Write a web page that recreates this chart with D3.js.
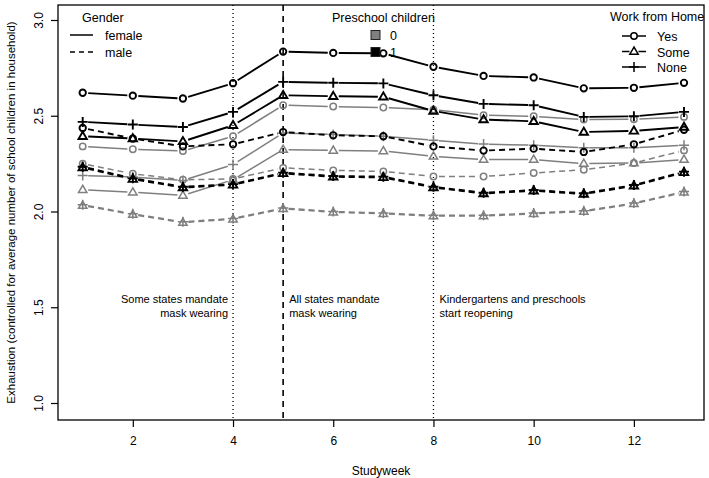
<!DOCTYPE html>
<html>
<head>
<meta charset="utf-8">
<script src="https://cdn.jsdelivr.net/npm/d3@7"></script>
<style>
body { margin: 0; background: #fff; }
svg { display: block; font-family: "Liberation Sans", Arial, sans-serif; }
</style>
</head>
<body>
<svg id="chart" width="709" height="478"></svg>
<script>
const weeks = [1, 2, 3, 4, 5, 6, 7, 8, 9, 10, 11, 12, 13]
const xTicks = [2, 4, 6, 8, 10, 12]
const yTicks = [1.0, 1.5, 2.0, 2.5, 3.0]

// female, preschool children = 1 (black, solid)
const femPre1Yes = [2.62, 2.605, 2.59, 2.67, 2.835, 2.828, 2.826, 2.756, 2.708, 2.70, 2.643, 2.646, 2.672]
const femPre1Some = [2.393, 2.381, 2.366, 2.45, 2.607, 2.602, 2.599, 2.525, 2.48, 2.471, 2.415, 2.421, 2.441]
const femPre1None = [2.468, 2.454, 2.441, 2.52, 2.677, 2.672, 2.669, 2.607, 2.562, 2.555, 2.494, 2.497, 2.52]
// female, preschool children = 0 (grey, solid)
const femPre0Yes = [2.34, 2.325, 2.316, 2.393, 2.555, 2.548, 2.543, 2.532, 2.503, 2.497, 2.48, 2.482, 2.494]
const femPre0Some = [2.114, 2.101, 2.084, 2.166, 2.323, 2.319, 2.316, 2.288, 2.271, 2.271, 2.25, 2.253, 2.271]
const femPre0None = [2.188, 2.18, 2.162, 2.245, 2.41, 2.402, 2.393, 2.372, 2.352, 2.346, 2.333, 2.333, 2.346]
// male, preschool children = 1 (black, dashed)
const malPre1Yes = [2.436, 2.381, 2.34, 2.351, 2.415, 2.398, 2.393, 2.34, 2.318, 2.328, 2.311, 2.351, 2.427]
const malPre1Some = [2.23, 2.169, 2.125, 2.139, 2.199, 2.181, 2.178, 2.125, 2.094, 2.108, 2.091, 2.134, 2.204]
const malPre1None = [2.234, 2.173, 2.129, 2.143, 2.203, 2.185, 2.182, 2.129, 2.098, 2.112, 2.095, 2.138, 2.208]
// male, preschool children = 0 (grey, dashed)
const malPre0Yes = [2.25, 2.197, 2.166, 2.17, 2.228, 2.215, 2.209, 2.183, 2.183, 2.201, 2.218, 2.253, 2.319]
const malPre0Some = [2.031, 1.984, 1.942, 1.96, 2.014, 1.996, 1.988, 1.976, 1.976, 1.988, 2.0, 2.04, 2.1]
const malPre0None = [2.035, 1.988, 1.946, 1.964, 2.018, 2.0, 1.992, 1.98, 1.98, 1.992, 2.004, 2.044, 2.104]

const series = [
  { v: malPre0Some, g: 'male', p: 0, w: 'Some' }, { v: malPre0None, g: 'male', p: 0, w: 'None' }, { v: malPre0Yes, g: 'male', p: 0, w: 'Yes' },
  { v: femPre0Some, g: 'female', p: 0, w: 'Some' }, { v: femPre0None, g: 'female', p: 0, w: 'None' }, { v: femPre0Yes, g: 'female', p: 0, w: 'Yes' },
  { v: malPre1Some, g: 'male', p: 1, w: 'Some' }, { v: malPre1None, g: 'male', p: 1, w: 'None' }, { v: malPre1Yes, g: 'male', p: 1, w: 'Yes' },
  { v: femPre1Some, g: 'female', p: 1, w: 'Some' }, { v: femPre1None, g: 'female', p: 1, w: 'None' }, { v: femPre1Yes, g: 'female', p: 1, w: 'Yes' }
]

const events = [
  { wk: 4, dash: '1,3', lines: ['Some states mandate', 'mask wearing'], anchor: 'end', dx: -5 },
  { wk: 5, dash: '6,5', lines: ['All states mandate', 'mask wearing'], anchor: 'start', dx: 6 },
  { wk: 8, dash: '1,3', lines: ['Kindergartens and preschools', 'start reopening'], anchor: 'start', dx: 6 }
]

const svg = d3.select('#chart')
const box = { left: 58, right: 704, top: 5, bottom: 420 }
const x = d3.scaleLinear().domain([1, 13]).range([82.7, 684])
const y = d3.scaleLinear().domain([1, 3]).range([403, 20])
const colour = p => p ? '#000' : '#7f7f7f'
const width = p => p ? 1.9 : 1.5
const dashOf = g => g === 'male' ? '6,4' : null

function marker(sel, type, cx, cy, col, lw) {
  if (type === 'Yes') sel.append('circle').attr('cx', cx).attr('cy', cy).attr('r', 3.2).attr('fill', 'none').attr('stroke', col).attr('stroke-width', lw)
  else if (type === 'Some') {
    const r = 4.4
    const pts = [[cx, cy - r], [cx - r * 0.95, cy + r * 0.62], [cx + r * 0.95, cy + r * 0.62]]
    sel.append('path').attr('d', 'M' + pts.join('L') + 'Z').attr('fill', 'none').attr('stroke', col).attr('stroke-width', lw)
  } else {
    sel.append('path').attr('d', `M${cx - 5},${cy}H${cx + 5}M${cx},${cy - 5}V${cy + 5}`).attr('stroke', col).attr('stroke-width', lw)
  }
}

// event lines
events.forEach(e => {
  svg.append('line').attr('x1', x(e.wk)).attr('x2', x(e.wk)).attr('y1', box.top).attr('y2', box.bottom)
    .attr('stroke', '#000').attr('stroke-width', e.wk === 5 ? 1.6 : 1.3).attr('stroke-dasharray', e.dash)
  e.lines.forEach((t, i) => svg.append('text').attr('x', x(e.wk) + e.dx).attr('y', 303 + i * 14)
    .attr('text-anchor', e.anchor).attr('font-size', 11).text(t))
})

// series, drawn like R type="b" (gaps around points)
const gap = 5.5
series.forEach(s => {
  const g = svg.append('g')
  const col = colour(s.p), lw = width(s.p)
  const pts = weeks.map((wk, i) => [x(wk), y(s.v[i])])
  for (let i = 0; i < pts.length - 1; i++) {
    const [x1, y1] = pts[i], [x2, y2] = pts[i + 1]
    const len = Math.hypot(x2 - x1, y2 - y1), ux = (x2 - x1) / len, uy = (y2 - y1) / len
    g.append('line').attr('x1', x1 + ux * gap).attr('y1', y1 + uy * gap).attr('x2', x2 - ux * gap).attr('y2', y2 - uy * gap)
      .attr('stroke', col).attr('stroke-width', lw).attr('stroke-dasharray', dashOf(s.g))
  }
  pts.forEach(([px, py]) => marker(g, s.w, px, py, col, lw))
})

// box and axes
svg.append('rect').attr('x', box.left).attr('y', box.top).attr('width', box.right - box.left).attr('height', box.bottom - box.top)
  .attr('fill', 'none').attr('stroke', '#000').attr('stroke-width', 1.3)
const xa = svg.append('g').attr('transform', `translate(0,${box.bottom})`)
  .call(d3.axisBottom(x).tickValues(xTicks).tickFormat(d3.format('d')).tickSize(7).tickPadding(9))
xa.select('.domain').remove()
const ya = svg.append('g').attr('transform', `translate(${box.left},0)`)
  .call(d3.axisLeft(y).tickValues(yTicks).tickFormat(d3.format('.1f')).tickSize(7))
ya.select('.domain').remove()
svg.selectAll('.tick line').attr('stroke-width', 1.2)
svg.selectAll('.tick text').attr('font-size', 12).attr('font-family', '"Liberation Sans", Arial, sans-serif').attr('fill', '#000')
ya.selectAll('.tick text').attr('x', null).attr('dy', null).attr('text-anchor', 'middle')
  .attr('transform', 'translate(-19,0) rotate(-90) translate(0,4)')

svg.append('text').attr('x', (box.left + box.right) / 2).attr('y', 475).attr('text-anchor', 'middle').attr('font-size', 12).text('Studyweek')
svg.append('text').attr('transform', `translate(15,${(box.top + box.bottom) / 2}) rotate(-90)`).attr('text-anchor', 'middle')
  .attr('font-size', 11.5).text('Exhaustion (controlled for average number of school children in household)')

// legends
const genderLeg = ['female', 'male']
svg.append('text').attr('x', 82).attr('y', 22).attr('font-size', 12.5).text('Gender')
genderLeg.forEach((t, i) => {
  const yy = 35 + i * 17
  svg.append('line').attr('x1', 70).attr('x2', 93).attr('y1', yy).attr('y2', yy).attr('stroke', '#000').attr('stroke-width', 1.5).attr('stroke-dasharray', i ? '5,4' : null)
  svg.append('text').attr('x', 105).attr('y', yy + 5).attr('font-size', 12.5).text(t)
})
const preLeg = [0, 1]
svg.append('text').attr('x', 332).attr('y', 22).attr('font-size', 12.5).text('Preschool children')
preLeg.forEach((p, i) => {
  const yy = 35 + i * 17
  svg.append('rect').attr('x', 371).attr('y', yy - 4.5).attr('width', 9).attr('height', 9).attr('fill', p ? '#000' : '#7f7f7f').attr('stroke', '#222').attr('stroke-width', 1)
  svg.append('text').attr('x', 390).attr('y', yy + 5).attr('font-size', 12.5).text(p)
})
const wfhLeg = ['Yes', 'Some', 'None']
svg.append('text').attr('x', 610).attr('y', 21).attr('font-size', 12.5).text('Work from Home')
wfhLeg.forEach((t, i) => {
  const yy = 36 + i * 15.5
  const gl = svg.append('g')
  const gg = t === 'Yes' ? 3.5 : t === 'Some' ? 4.5 : 0
  gl.append('line').attr('x1', 622).attr('x2', 634 - gg).attr('y1', yy).attr('y2', yy).attr('stroke', '#000').attr('stroke-width', 1.5)
  gl.append('line').attr('x1', 634 + gg).attr('x2', 646).attr('y1', yy).attr('y2', yy).attr('stroke', '#000').attr('stroke-width', 1.5)
  marker(gl, t, 634, yy, '#000', 1.5)
  svg.append('text').attr('x', 657).attr('y', yy + 5).attr('font-size', 12.5).text(t)
})
</script>
</body>
</html>
